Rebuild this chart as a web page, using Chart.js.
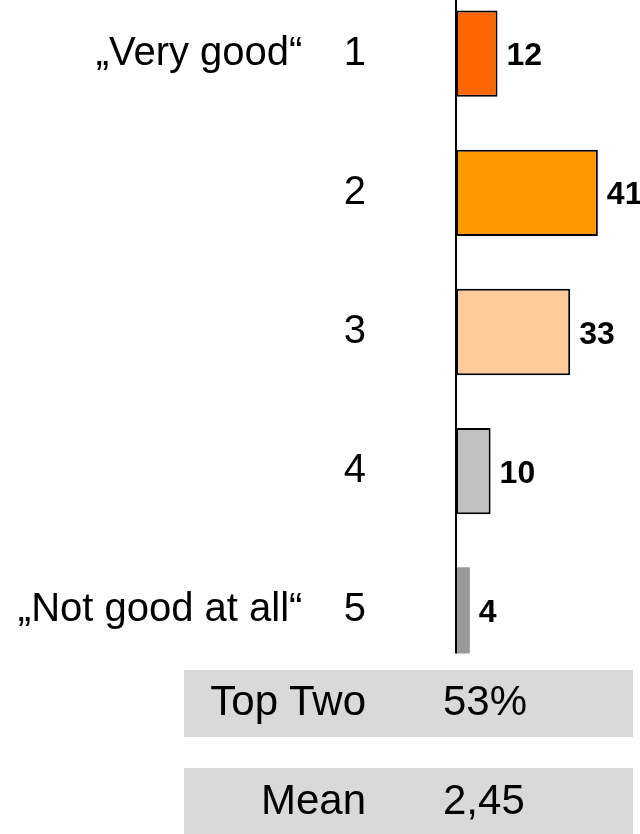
<!DOCTYPE html>
<html>
<head>
<meta charset="utf-8">
<script src="https://cdn.jsdelivr.net/npm/chart.js@4/dist/chart.umd.min.js"></script>
<style>
  html, body { margin: 0; padding: 0; background: #fff; }
  #page { position: relative; width: 640px; height: 834px; overflow: hidden; }
  #chart { position: absolute; left: 0; top: -16px; }
  .box { position: absolute; left: 184px; width: 449px; background: #d9d9d9; }
  .txt { position: absolute; font: 42px "Liberation Sans", Arial, sans-serif; line-height: 67px; color: #000; white-space: nowrap; }
</style>
</head>
<body>
<div id="page">
  <canvas id="chart" width="640" height="850"></canvas>
</div>
<script>
// ratings 1..5, share of answers in %
const categories = ["1", "2", "3", "4", "5"];
const endLabels = ["„Very good“", "", "", "", "„Not good at all“"];
const values = [12, 41, 33, 10, 4];
const barColors = ["#ff6600", "#ff9900", "#ffcc99", "#c0c0c0", "#999999"];
const summaryLabels = ["Top Two", "Mean"];
const summaryValues = ["53%", "2,45"];

const FONT = '"Liberation Sans", Arial, sans-serif';

// summary boxes under the chart
const page = document.getElementById("page");
summaryLabels.forEach((lab, i) => {
  const top = 670 + i * 98;
  const box = document.createElement("div");
  box.className = "box";
  box.style.top = top + "px";
  box.style.height = (i === 0 ? 67 : 834 - top) + "px";
  page.appendChild(box);

  const l = document.createElement("div");
  l.className = "txt";
  l.style.left = "184px";
  l.style.width = "182px";
  l.style.textAlign = "right";
  l.style.top = (top - 3 + i) + "px";
  l.textContent = lab;
  page.appendChild(l);

  const v = document.createElement("div");
  v.className = "txt";
  v.style.left = "443px";
  v.style.top = (top - 3 + i) + "px";
  v.textContent = summaryValues[i];
  page.appendChild(v);
});

const barExtras = {
  id: "barExtras",
  afterDatasetsDraw(chart) {
    const { ctx, chartArea } = chart;
    const bars = chart.getDatasetMeta(0).data;
    if (!bars.length) return;
    ctx.save();

    // value labels
    ctx.font = "bold 32px " + FONT;
    ctx.fillStyle = "#000";
    ctx.textAlign = "left";
    ctx.textBaseline = "alphabetic";
    bars.forEach((b, i) => {
      ctx.fillText(String(values[i]), b.x + 9, b.y + 11.5);
    });

    // axis line, stops at the bottom of the last bar
    const last = bars[bars.length - 1];
    ctx.strokeStyle = "#000";
    ctx.lineWidth = 2;
    ctx.beginPath();
    ctx.moveTo(chartArea.left, chartArea.top);
    ctx.lineTo(chartArea.left, last.y + last.height / 2);
    ctx.stroke();
    ctx.restore();
  },
};

new Chart(document.getElementById("chart"), {
  type: "bar",
  data: {
    labels: categories,
    datasets: [{
      data: values,
      backgroundColor: barColors,
      borderColor: "#000",
      borderWidth: [2, 2, 2, 2, 0],
      borderSkipped: false,
      barPercentage: 0.62,
      categoryPercentage: 1,
    }],
  },
  options: {
    indexAxis: "y",
    responsive: false,
    animation: false,
    devicePixelRatio: 1,
    layout: { padding: { top: 0, bottom: 154, left: 0, right: 11 } },
    plugins: { legend: { display: false }, tooltip: { enabled: false } },
    scales: {
      x: { display: false, min: 0, max: 50 },
      y: {
        afterFit(scale) {
          scale.width = 456;
          scale.paddingTop = 0;
          scale.paddingBottom = 0;
        },
        border: { display: false },
        grid: { display: false, drawTicks: false, tickLength: 0 },
        ticks: {
          padding: 90,
          color: "#000",
          font: { family: FONT, size: 40 },
          callback(v, i) {
            return endLabels[i] ? endLabels[i] + "   \u2009" + categories[i] : categories[i];
          },
        },
      },
    },
  },
  plugins: [barExtras],
});
</script>
</body>
</html>
